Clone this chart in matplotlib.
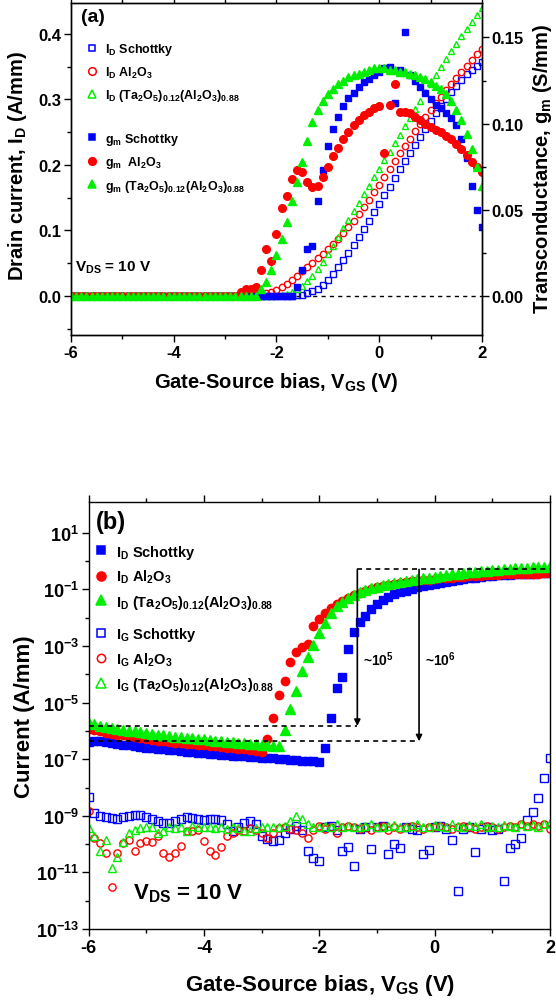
import numpy as np
import matplotlib

matplotlib.use("Agg")
import matplotlib.pyplot as plt
from matplotlib.lines import Line2D
from matplotlib.ticker import MultipleLocator, FixedLocator, NullFormatter, FormatStrFormatter

plt.rcParams["font.family"] = ["Liberation Sans", "DejaVu Sans"]
plt.rcParams["font.weight"] = "bold"
plt.rcParams["mathtext.fontset"] = "custom"
plt.rcParams["mathtext.rm"] = "Liberation Sans:bold"
plt.rcParams["mathtext.it"] = "Liberation Sans:bold"
plt.rcParams["mathtext.bf"] = "Liberation Sans:bold"
plt.rcParams["mathtext.sf"] = "Liberation Sans:bold"
plt.rcParams["mathtext.default"] = "rm"
plt.rcParams["axes.unicode_minus"] = False

BLUE = "#0000ff"
RED = "#ff0000"
GREEN = "#00ee00"

# gate sweep, 0.1 V steps
VGS = np.round(np.linspace(-6.0, 2.0, 81), 1)

# ---- panel (a): drain current (A/mm) ----
ID_SCH = [
    0.0, 0.0, 0.0, 0.0, 0.0, 0.0, 0.0, 0.0, 0.0, 0.0,
    0.0, 0.0, 0.0, 0.0, 0.0, 0.0, 0.0, 0.0, 0.0, 0.0,
    0.0, 0.0, 0.0, 0.0, 0.0, 0.0, 0.0, 0.0, 0.0, 0.0,
    0.0, 0.0, 0.0, 0.0, 0.0, 0.0, 0.0, 0.0, 0.0, 0.0,
    0.0, 0.0, 0.0, 0.000, 0.001, 0.002, 0.004, 0.007, 0.011, 0.017,
    0.025, 0.034, 0.044, 0.055, 0.066, 0.078, 0.090, 0.102, 0.115, 0.128,
    0.141, 0.154, 0.167, 0.180, 0.193, 0.206, 0.218, 0.231, 0.243, 0.255,
    0.267, 0.279, 0.290, 0.301, 0.311, 0.321, 0.330, 0.338, 0.345, 0.351,
    0.357,
]
ID_AL = [
    0.0, 0.0, 0.0, 0.0, 0.0, 0.0, 0.0, 0.0, 0.0, 0.0,
    0.0, 0.0, 0.0, 0.0, 0.0, 0.0, 0.0, 0.0, 0.0, 0.0,
    0.0, 0.0, 0.0, 0.0, 0.0, 0.0, 0.0, 0.0, 0.0, 0.0,
    0.0, 0.0, 0.0, 0.0, 0.0, 0.0, 0.001, 0.002, 0.004, 0.006,
    0.009, 0.013, 0.018, 0.024, 0.031, 0.038, 0.045, 0.051, 0.058, 0.064,
    0.071, 0.079, 0.087, 0.096, 0.105, 0.115, 0.125, 0.136, 0.147, 0.158,
    0.170, 0.182, 0.194, 0.206, 0.218, 0.229, 0.240, 0.251, 0.262, 0.273,
    0.284, 0.294, 0.304, 0.314, 0.324, 0.333, 0.342, 0.351, 0.360, 0.369,
    0.377,
]
ID_TA = [
    0.0, 0.0, 0.0, 0.0, 0.0, 0.0, 0.0, 0.0, 0.0, 0.0,
    0.0, 0.0, 0.0, 0.0, 0.0, 0.0, 0.0, 0.0, 0.0, 0.0,
    0.0, 0.0, 0.0, 0.0, 0.0, 0.0, 0.0, 0.0, 0.0, 0.0,
    0.0, 0.0, 0.0, 0.0, 0.0, 0.0, 0.0, 0.0, 0.0, 0.0,
    0.0, 0.001, 0.003, 0.006, 0.010, 0.016, 0.023, 0.031, 0.041, 0.052,
    0.064, 0.077, 0.090, 0.103, 0.116, 0.129, 0.142, 0.155, 0.168, 0.181,
    0.194, 0.207, 0.220, 0.233, 0.246, 0.259, 0.272, 0.285, 0.298, 0.311,
    0.324, 0.337, 0.350, 0.362, 0.374, 0.385, 0.396, 0.407, 0.418, 0.429,
    0.440,
]

# ---- panel (a): transconductance (S/mm) ----
GM_SCH = [
    0.0, 0.0, 0.0, 0.0, 0.0, 0.0, 0.0, 0.0, 0.0, 0.0,
    0.0, 0.0, 0.0, 0.0, 0.0, 0.0, 0.0, 0.0, 0.0, 0.0,
    0.0, 0.0, 0.0, 0.0, 0.0, 0.0, 0.0, 0.0, 0.0, 0.0,
    0.0, 0.0, 0.0, 0.0, 0.0, 0.0, 0.0, 0.0, 0.0, 0.0,
    0.0, 0.0, 0.0, 0.0, 0.005, 0.015, 0.027, 0.029, 0.055, 0.073,
    0.087, 0.097, 0.104, 0.110, 0.115, 0.118, 0.121, 0.124, 0.126, 0.128,
    0.130, 0.132, 0.133, 0.112, 0.131, 0.153, 0.128, 0.125, 0.121, 0.118,
    0.114, 0.111, 0.109, 0.106, 0.103, 0.099, 0.091, 0.080, 0.064, 0.050,
    0.040,
]
GM_AL = [
    0.0, 0.0, 0.0, 0.0, 0.0, 0.0, 0.0, 0.0, 0.0, 0.0,
    0.0, 0.0, 0.0, 0.0, 0.0, 0.0, 0.0, 0.0, 0.0, 0.0,
    0.0, 0.0, 0.0, 0.0, 0.0, 0.0, 0.0, 0.0, 0.0, 0.0,
    0.0, 0.0, 0.0, 0.002, 0.004, 0.004, 0.005, 0.015, 0.027, 0.020,
    0.036, 0.051, 0.058, 0.068, 0.073, 0.072, 0.066, 0.063, 0.064, 0.069,
    0.075, 0.081, 0.086, 0.091, 0.095, 0.099, 0.102, 0.105, 0.107, 0.109,
    0.110, 0.083, 0.111, 0.123, 0.107, 0.107, 0.106, 0.104, 0.102, 0.100,
    0.098, 0.096, 0.095, 0.093, 0.091, 0.088, 0.085, 0.082, 0.078, 0.075,
    0.072,
]
GM_TA = [
    0.0, 0.0, 0.0, 0.0, 0.0, 0.0, 0.0, 0.0, 0.0, 0.0,
    0.0, 0.0, 0.0, 0.0, 0.0, 0.0, 0.0, 0.0, 0.0, 0.0,
    0.0, 0.0, 0.0, 0.0, 0.0, 0.0, 0.0, 0.0, 0.0, 0.0,
    0.0, 0.0, 0.0, 0.0, 0.0, 0.0, 0.0, 0.004, 0.008, 0.015,
    0.024, 0.033, 0.043, 0.055, 0.066, 0.078, 0.090, 0.101, 0.108, 0.113,
    0.117, 0.120, 0.123, 0.125, 0.127, 0.128, 0.129, 0.130, 0.131, 0.132,
    0.132, 0.132, 0.131, 0.131, 0.130, 0.130, 0.129, 0.128, 0.127, 0.126,
    0.124, 0.122, 0.120, 0.117, 0.113, 0.108, 0.102, 0.094, 0.085, 0.075,
    0.064,
]

# ---- panel (b): log10 of current (A/mm) ----
LOG_ID_SCH = [
    -6.38, -6.36, -6.37, -6.39, -6.42, -6.45, -6.48, -6.51, -6.54, -6.56,
    -6.59, -6.61, -6.63, -6.65, -6.67, -6.69, -6.71, -6.73, -6.75, -6.77,
    -6.79, -6.80, -6.82, -6.84, -6.85, -6.87, -6.88, -6.90, -6.91, -6.93,
    -6.94, -6.96, -6.97, -6.99, -7.00, -7.02, -7.03, -7.05, -7.06, -7.08,
    -7.10, -6.61, -5.53, -4.49, -4.11, -3.10, -2.50, -2.15, -1.93, -1.68,
    -1.50, -1.37, -1.26, -1.17, -1.10, -1.04, -0.98, -0.93, -0.88, -0.84,
    -0.80, -0.76, -0.72, -0.69, -0.66, -0.63, -0.60, -0.58, -0.55, -0.53,
    -0.52, -0.50, -0.49, -0.48, -0.47, -0.46, -0.45, -0.44, -0.43, -0.42,
    -0.42,
]
LOG_ID_AL = [
    -5.94, -5.98, -6.02, -6.06, -6.10, -6.13, -6.16, -6.19, -6.22, -6.25,
    -6.28, -6.31, -6.34, -6.36, -6.39, -6.41, -6.43, -6.45, -6.47, -6.49,
    -6.51, -6.53, -6.55, -6.57, -6.59, -6.61, -6.63, -6.65, -6.67, -6.70,
    -6.73, -6.30, -5.55, -4.72, -4.22, -3.58, -3.20, -3.05, -2.92, -2.28,
    -2.05, -1.84, -1.66, -1.52, -1.40, -1.30, -1.20, -1.11, -1.04, -0.98,
    -0.93, -0.88, -0.84, -0.80, -0.77, -0.74, -0.71, -0.69, -0.67, -0.65,
    -0.63, -0.61, -0.59, -0.58, -0.56, -0.55, -0.54, -0.52, -0.51, -0.50,
    -0.49, -0.48, -0.47, -0.47, -0.46, -0.45, -0.45, -0.44, -0.44, -0.43,
    -0.43,
]
LOG_ID_TA = [
    -5.72, -5.77, -5.82, -5.86, -5.90, -5.93, -5.96, -5.99, -6.02, -6.05,
    -6.08, -6.10, -6.13, -6.15, -6.18, -6.20, -6.22, -6.24, -6.26, -6.28,
    -6.30, -6.32, -6.34, -6.36, -6.38, -6.40, -6.42, -6.44, -6.45, -6.47,
    -6.49, -6.51, -6.53, -6.55, -5.96, -5.24, -4.60, -3.88, -3.40, -2.96,
    -2.54, -2.19, -1.84, -1.60, -1.43, -1.30, -1.20, -1.10, -1.02, -0.96,
    -0.91, -0.86, -0.82, -0.78, -0.74, -0.70, -0.67, -0.64, -0.61, -0.58,
    -0.55, -0.52, -0.50, -0.47, -0.45, -0.42, -0.40, -0.38, -0.36, -0.34,
    -0.32, -0.30, -0.29, -0.27, -0.26, -0.24, -0.23, -0.22, -0.20, -0.19,
    -0.17,
]
LOG_IG_SCH = [
    -8.32, -8.90, -9.00, -9.04, -9.08, -9.11, -9.05, -9.00, -8.96, -8.98,
    -9.05, -9.12, -9.20, -9.24, -9.24, -9.20, -9.11, -9.04, -9.06, -9.12,
    -9.15, -9.13, -9.11, -9.15, -9.30, -9.55, -9.40, -9.25, -9.20, -9.30,
    -9.73, -9.82, -9.90, -9.85, -9.60, -9.45, -9.35, -9.50, -10.26, -10.50,
    -10.60, -9.40, -9.35, -9.50, -10.23, -10.10, -10.77, -9.45, -9.40, -10.18,
    -9.40, -9.35, -10.34, -9.99, -10.14, -9.40, -9.45, -9.50, -10.34, -10.20,
    -9.40, -9.35, -9.45, -9.87, -11.67, -9.45, -9.40, -10.28, -9.45, -9.40,
    -9.50, -9.45, -11.29, -10.14, -9.99, -9.80, -9.14, -8.85, -8.37, -7.67,
    -6.96,
]
LOG_IG_AL = [
    -8.82, -9.79, -9.95, -10.32, -11.50, -10.32, -9.96, -9.85, -10.26, -9.96,
    -9.90, -9.94, -9.73, -10.32, -10.44, -10.32, -10.06, -9.55, -9.55, -9.50,
    -9.90, -10.26, -10.40, -10.10, -9.73, -9.60, -9.50, -9.55, -9.43, -9.50,
    -9.60, -9.79, -9.60, -9.43, -9.40, -9.45, -9.50, -9.60, -9.79, -9.50,
    -9.35, -9.45, -9.40, -9.60, -9.40, -9.35, -9.40, -9.45, -9.40, -9.50,
    -9.40, -9.35, -9.50, -9.40, -9.45, -9.40, -9.35, -9.40, -9.45, -9.40,
    -9.40, -9.35, -9.40, -9.45, -9.40, -9.35, -9.40, -9.45, -9.40, -9.35,
    -9.40, -9.45, -9.40, -9.35, -9.40, -9.30, -9.35, -9.30, -9.35, -9.30,
    -9.45,
]
LOG_IG_TA = [
    -9.43, -9.73, -10.26, -9.85, -10.85, -10.44, -9.91, -9.62, -9.50, -9.43,
    -9.40, -9.40, -9.60, -9.55, -9.40, -9.43, -9.40, -9.55, -9.35, -9.40,
    -9.40, -9.38, -9.42, -9.40, -9.45, -9.40, -9.42, -9.55, -9.55, -9.42,
    -9.40, -9.40, -9.38, -9.40, -9.35, -9.20, -9.02, -9.11, -9.30, -9.38,
    -9.40, -9.35, -9.38, -9.30, -9.40, -9.35, -9.38, -9.40, -9.35, -9.30,
    -9.38, -9.40, -9.35, -9.32, -9.38, -9.40, -9.35, -9.30, -9.38, -9.40,
    -9.32, -9.35, -9.38, -9.30, -9.35, -9.40, -9.32, -9.35, -9.30, -9.38,
    -9.35, -9.40, -9.32, -9.35, -9.38, -9.30, -9.35, -9.32, -9.38, -9.30,
    -9.25,
]

# on/off ratio guide lines in (b)
ON_LEVEL = 0.51
OFF_LEVEL_TA = 1.5e-6
OFF_LEVEL_SCH = 4.3e-7
ARROW_V_TA = -1.34
ARROW_V_SCH = -0.27

ALO = "Al$_2$O$_3$"
TAO = "(Ta$_2$O$_5$)$_{0.12}$(Al$_2$O$_3$)$_{0.88}$"

W, H = 556, 1004
fig = plt.figure(figsize=(W / 100, H / 100), dpi=100, facecolor="white")


def px_axes(left, top, right, bottom):
    return [left / W, 1 - bottom / H, (right - left) / W, (bottom - top) / H]


def style_axis(ax, size):
    ax.tick_params(which="both", direction="out", width=1.0, labelsize=size, pad=2)
    ax.tick_params(which="major", length=5)
    ax.tick_params(which="minor", length=3)
    for sp in ax.spines.values():
        sp.set_linewidth(1.0)


def handle(marker, color, filled, ms):
    return Line2D([], [], ls="none", marker=marker, ms=ms,
                  mfc=color if filled else "none", mec=color, mew=1.1)


# ================= panel (a) =================
ax_a = fig.add_axes(px_axes(71, 4, 482, 336))
ax_g = ax_a.twinx()

ax_a.axhline(0, color="black", lw=1.0, ls=(0, (3, 3)), zorder=1)
hollow = dict(ls="none", ms=4.6, mfc="none", mew=1.0)
ax_a.plot(VGS, ID_SCH, marker="s", mec=BLUE, **hollow)
ax_a.plot(VGS, ID_AL, marker="o", mec=RED, **hollow)
ax_a.plot(VGS, ID_TA, marker="^", mec=GREEN, **hollow)

ax_g.plot(VGS, GM_SCH, ls="none", marker="s", ms=5, color=BLUE)
ax_g.plot(VGS, GM_AL, ls="none", marker="o", ms=5.5, color=RED)
ax_g.plot(VGS, GM_TA, ls="none", marker="^", ms=6, color=GREEN)

ax_a.set_xlim(-6, 2)
ax_a.set_ylim(-0.0595, 0.447)
ax_g.set_ylim(-0.0227, 0.170)
ax_a.xaxis.set_major_locator(MultipleLocator(2))
ax_a.xaxis.set_minor_locator(MultipleLocator(1))
ax_a.yaxis.set_major_locator(MultipleLocator(0.1))
ax_a.yaxis.set_minor_locator(MultipleLocator(0.05))
ax_a.yaxis.set_major_formatter(FormatStrFormatter("%.1f"))
ax_g.yaxis.set_major_locator(MultipleLocator(0.05))
ax_g.yaxis.set_minor_locator(MultipleLocator(0.025))
ax_g.yaxis.set_major_formatter(FormatStrFormatter("%.2f"))
style_axis(ax_a, 12)
style_axis(ax_g, 12)
ax_a.tick_params(which="both", top=True)

leg_a1 = ax_g.legend(
    handles=[handle("s", BLUE, False, 5), handle("o", RED, False, 5.5), handle("^", GREEN, False, 6)],
    labels=["I$_\\mathrm{D}$ Schottky", "I$_\\mathrm{D}$ " + ALO, "I$_\\mathrm{D}$ " + TAO],
    loc="upper left", bbox_to_anchor=(0.036, 0.885), frameon=False, fontsize=9,
    handlelength=1.0, handletextpad=0.5, labelspacing=0.6, borderpad=0, borderaxespad=0,
)
ax_g.add_artist(leg_a1)
ax_g.legend(
    handles=[handle("s", BLUE, True, 5), handle("o", RED, True, 5.5), handle("^", GREEN, True, 6)],
    labels=["g$_\\mathrm{m}$ Schottky", "g$_\\mathrm{m}$  " + ALO, "g$_\\mathrm{m}$ " + TAO],
    loc="upper left", bbox_to_anchor=(0.036, 0.615), frameon=False, fontsize=9,
    handlelength=1.0, handletextpad=0.5, labelspacing=0.6, borderpad=0, borderaxespad=0,
)

fig.text(81 / W, 1 - 18 / H, "(a)", fontsize=14, ha="left", va="center")
fig.text(75 / W, 1 - 268 / H, "V$_\\mathrm{DS}$ = 10 V", fontsize=11, ha="left", va="center")
fig.text(276 / W, 1 - 383 / H, "Gate-Source bias, V$_\\mathrm{GS}$ (V)", fontsize=14.5,
         ha="center", va="center")
fig.text(18 / W, 1 - 166 / H, "Drain current, I$_\\mathrm{D}$ (A/mm)", fontsize=14.5,
         ha="center", va="center", rotation=90)
fig.text(542 / W, 1 - 169 / H, "Transconductance, g$_\\mathrm{m}$ (S/mm)", fontsize=14.5,
         ha="center", va="center", rotation=90)

# ================= panel (b) =================
ax_b = fig.add_axes(px_axes(88.5, 503, 550, 930))
ax_b.set_yscale("log")

hollow_b = dict(ls="none", ms=5.2, mfc="none", mew=1.0)
ax_b.plot(VGS, np.power(10.0, LOG_IG_SCH), marker="s", mec=BLUE, **hollow_b)
ax_b.plot(VGS, np.power(10.0, LOG_IG_AL), marker="o", mec=RED, **hollow_b)
ax_b.plot(VGS, np.power(10.0, LOG_IG_TA), marker="^", mec=GREEN, **hollow_b)
ax_b.plot(VGS, np.power(10.0, LOG_ID_SCH), ls="none", marker="s", ms=5.5, color=BLUE)
ax_b.plot(VGS, np.power(10.0, LOG_ID_AL), ls="none", marker="o", ms=6, color=RED)
ax_b.plot(VGS, np.power(10.0, LOG_ID_TA), ls="none", marker="^", ms=6.5, color=GREEN)

dash = dict(color="black", lw=1.2, ls=(0, (3, 2.5)))
ax_b.plot([ARROW_V_TA, 2.0], [ON_LEVEL, ON_LEVEL], **dash)
ax_b.plot([-6.0, ARROW_V_TA], [OFF_LEVEL_TA, OFF_LEVEL_TA], **dash)
ax_b.plot([-6.0, ARROW_V_SCH], [OFF_LEVEL_SCH, OFF_LEVEL_SCH], **dash)
arrow = dict(arrowstyle="-|>", color="black", lw=1.2, mutation_scale=9, shrinkA=0, shrinkB=0)
ax_b.annotate("", xy=(ARROW_V_TA, OFF_LEVEL_TA), xytext=(ARROW_V_TA, ON_LEVEL), arrowprops=arrow)
ax_b.annotate("", xy=(ARROW_V_SCH, OFF_LEVEL_SCH), xytext=(ARROW_V_SCH, ON_LEVEL), arrowprops=arrow)
ax_b.text(ARROW_V_TA + 0.1, 10 ** -3.45, "~10$^5$", fontsize=10, ha="left", va="center")
ax_b.text(ARROW_V_SCH + 0.1, 10 ** -3.45, "~10$^6$", fontsize=10, ha="left", va="center")

ax_b.set_xlim(-6, 2)
ax_b.set_ylim(1e-13, 10 ** 2.09)
ax_b.xaxis.set_major_locator(MultipleLocator(2))
ax_b.xaxis.set_minor_locator(MultipleLocator(1))
major_exp = list(range(-13, 2, 2))
ax_b.yaxis.set_major_locator(FixedLocator([10.0 ** k for k in major_exp]))
ax_b.set_yticklabels(["10$^{%d}$" % k for k in major_exp])
ax_b.yaxis.set_minor_locator(FixedLocator([10.0 ** k for k in range(-12, 2, 2)]))
ax_b.yaxis.set_minor_formatter(NullFormatter())
style_axis(ax_b, 13)
ax_b.tick_params(which="both", top=True, right=False)

leg_b1 = ax_b.legend(
    handles=[handle("s", BLUE, True, 6), handle("o", RED, True, 6.5), handle("^", GREEN, True, 7)],
    labels=["I$_\\mathrm{D}$ Schottky", "I$_\\mathrm{D}$ " + ALO, "I$_\\mathrm{D}$ " + TAO],
    loc="upper left", bbox_to_anchor=(0.012, 0.905), frameon=False, fontsize=10.5,
    handlelength=1.0, handletextpad=0.5, labelspacing=0.5, borderpad=0, borderaxespad=0,
)
ax_b.add_artist(leg_b1)
ax_b.legend(
    handles=[handle("s", BLUE, False, 6), handle("o", RED, False, 6), handle("^", GREEN, False, 6.5)],
    labels=["I$_\\mathrm{G}$ Schottky", "I$_\\mathrm{G}$ " + ALO, "I$_\\mathrm{G}$ " + TAO],
    loc="upper left", bbox_to_anchor=(0.012, 0.712), frameon=False, fontsize=10.5,
    handlelength=1.0, handletextpad=0.5, labelspacing=0.5, borderpad=0, borderaxespad=0,
)

fig.text(96 / W, 1 - 522 / H, "(b)", fontsize=17, ha="left", va="center")
fig.text(133 / W, 1 - 894 / H, "V$_\\mathrm{DS}$ = 10 V", fontsize=16, ha="left", va="center")
fig.text(320 / W, 1 - 986 / H, "Gate-Source bias, V$_\\mathrm{GS}$ (V)", fontsize=16,
         ha="center", va="center")
fig.text(25 / W, 1 - 717 / H, "Current (A/mm)", fontsize=16, ha="center", va="center", rotation=90)

fig.savefig("out.png", dpi=100, facecolor="white")
plt.close(fig)
